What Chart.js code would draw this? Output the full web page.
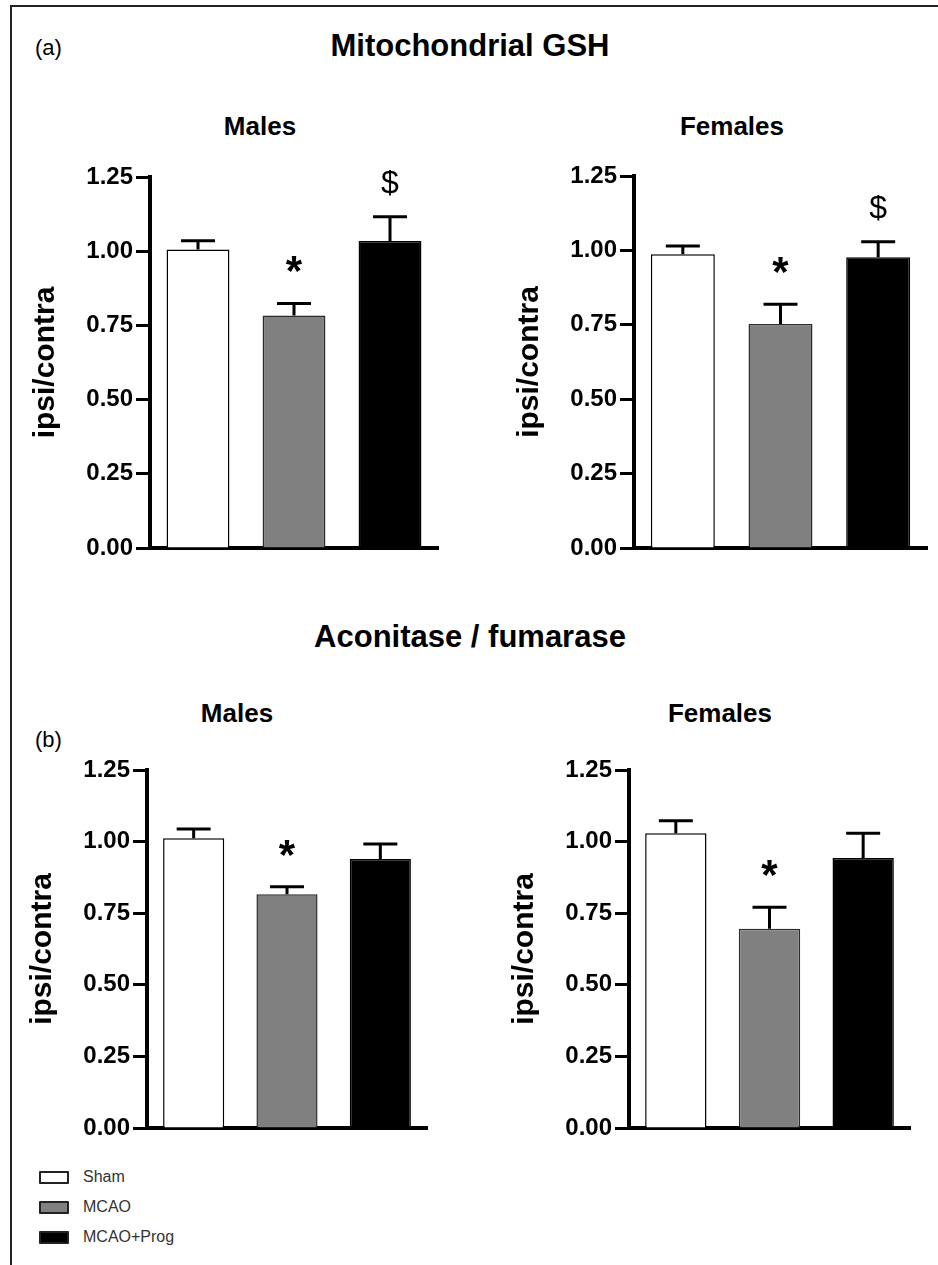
<!DOCTYPE html>
<html>
<head>
<meta charset="utf-8">
<script src="https://cdn.jsdelivr.net/npm/chart.js@4.4.1/dist/chart.umd.min.js"></script>
<style>
  body { margin: 0; background: #fff; }
  #page { position: relative; width: 938px; height: 1265px; overflow: hidden; font-family: "Liberation Sans", Arial, sans-serif; color: #000; }
  #page canvas { position: absolute; }
  .txt { position: absolute; line-height: 1; white-space: nowrap; }
  .bold { font-weight: bold; }
  .frame { position: absolute; left: 10px; top: 5px; width: 960px; height: 1300px; border-left: 2px solid #222; border-top: 2px solid #222; }
  .key { position: absolute; left: 39px; width: 26px; height: 9px; border: 2px solid #222; border-radius: 1px; }
  .keytxt { position: absolute; left: 83px; font-size: 16px; line-height: 1; color: #333; }
</style>
</head>
<body>
<div id="page">
  <div class="frame"></div>

  <div class="txt" style="left:35px; top:37px; font-size:22px;">(a)</div>
  <div class="txt bold" style="left:0; width:940px; text-align:center; top:30px; font-size:31px;">Mitochondrial GSH</div>
  <div class="txt bold" style="left:160px; width:200px; text-align:center; top:113px; font-size:26px;">Males</div>
  <div class="txt bold" style="left:632px; width:200px; text-align:center; top:113px; font-size:26px;">Females</div>

  <div class="txt bold" style="left:0; width:940px; text-align:center; top:621px; font-size:31px;">Aconitase / fumarase</div>
  <div class="txt bold" style="left:137px; width:200px; text-align:center; top:700px; font-size:26px;">Males</div>
  <div class="txt" style="left:35px; top:729px; font-size:22px;">(b)</div>
  <div class="txt bold" style="left:620px; width:200px; text-align:center; top:700px; font-size:26px;">Females</div>

  <canvas id="gshMales"></canvas>
  <canvas id="gshFemales"></canvas>
  <canvas id="acoMales"></canvas>
  <canvas id="acoFemales"></canvas>

  <div class="key" style="top:1171px; background:#fff;"></div>
  <div class="keytxt" style="top:1169px;">Sham</div>
  <div class="key" style="top:1201px; background:#808080;"></div>
  <div class="keytxt" style="top:1199px;">MCAO</div>
  <div class="key" style="top:1231px; background:#000;"></div>
  <div class="keytxt" style="top:1229px;">MCAO+Prog</div>
</div>

<script>
// groupes et couleurs
const groups = ['Sham', 'MCAO', 'MCAO+Prog'];
const barColors = ['#ffffff', '#808080', '#000000'];
const barBorders = ['#000000', '#2b2b2b', '#000000'];
const yTicks = [0, 0.25, 0.5, 0.75, 1.0, 1.25];

// (a) Mitochondrial GSH
const gshMalesValues = [1.006, 0.783, 1.034];
const gshMalesErrors = [0.029, 0.041, 0.082];
const gshFemalesValues = [0.987, 0.753, 0.977];
const gshFemalesErrors = [0.028, 0.066, 0.052];
const gshMarks = ['', '*', '$'];

// (b) Aconitase / fumarase
const acoMalesValues = [1.012, 0.816, 0.939];
const acoMalesErrors = [0.032, 0.026, 0.053];
const acoFemalesValues = [1.029, 0.696, 0.943];
const acoFemalesErrors = [0.044, 0.075, 0.086];
const acoMarks = ['', '*', ''];

Chart.defaults.font.family = '"Liberation Sans", Arial, sans-serif';
Chart.defaults.color = '#000';

// barres d'erreur (SEM, vers le haut) et symboles de significativité
const errorBars = {
    id: 'errorBars',
    afterDatasetsDraw(chart) {
        const ctx = chart.ctx;
        const y = chart.scales.y;
        const ds = chart.data.datasets[0];
        const meta = chart.getDatasetMeta(0);
        ctx.save();
        ctx.strokeStyle = '#000';
        ctx.fillStyle = '#000';
        ctx.lineWidth = 3;
        meta.data.forEach((bar, i) => {
            const top = y.getPixelForValue(ds.data[i] + ds.errors[i]);
            ctx.beginPath();
            ctx.moveTo(bar.x, bar.y);
            ctx.lineTo(bar.x, top);
            ctx.moveTo(bar.x - 17, top);
            ctx.lineTo(bar.x + 17, top);
            ctx.stroke();
            const mark = ds.marks[i];
            ctx.textAlign = 'center';
            ctx.textBaseline = 'alphabetic';
            if (mark === '*') {
                ctx.font = 'bold 42px "Liberation Sans", Arial, sans-serif';
                ctx.fillText(mark, bar.x, top - 18);
            } else if (mark) {
                ctx.font = '32px "Liberation Sans", Arial, sans-serif';
                ctx.fillText(mark, bar.x, top - 24);
            }
        });
        ctx.restore();
    }
};

// box : centre du titre Y (tx) et zone du graphique (cl, ct, cr, cb) en px de page
function makeChart(id, box, values, errors, marks) {
    const canvas = document.getElementById(id);
    const L = box.tx - 22;
    const T = box.ct - 30;
    const W = box.cr + 20 - L;
    const H = box.cb + 20 - T;
    canvas.width = W;
    canvas.height = H;
    canvas.style.left = L + 'px';
    canvas.style.top = T + 'px';
    canvas.style.width = W + 'px';
    canvas.style.height = H + 'px';

    return new Chart(canvas, {
        type: 'bar',
        data: {
            labels: groups,
            datasets: [{
                data: values,
                errors: errors,
                marks: marks,
                backgroundColor: barColors,
                borderColor: barBorders,
                borderWidth: 1.5,
                categoryPercentage: 1,
                barPercentage: 0.655
            }]
        },
        options: {
            responsive: false,
            animation: false,
            devicePixelRatio: 1,
            layout: { padding: { left: 0, top: 30, right: 20, bottom: 0 } },
            plugins: {
                legend: { display: false },
                tooltip: { enabled: false }
            },
            scales: {
                x: {
                    z: 1,
                    grid: { display: false },
                    ticks: { display: false },
                    border: { color: '#000', width: 4 },
                    afterFit(s) { s.height = 20; }
                },
                y: {
                    min: yTicks[0],
                    max: yTicks[yTicks.length - 1],
                    ticks: {
                        stepSize: yTicks[1] - yTicks[0],
                        color: '#000',
                        padding: 3,
                        font: { weight: 'bold', size: 24 },
                        callback: v => v.toFixed(2)
                    },
                    grid: {
                        drawOnChartArea: false,
                        drawTicks: true,
                        tickLength: 14,
                        tickWidth: 3,
                        tickColor: '#000'
                    },
                    border: { color: '#000', width: 4 },
                    title: {
                        display: true,
                        text: 'ipsi/contra',
                        color: '#000',
                        font: { weight: 'bold', size: 30 },
                        padding: { top: 4, bottom: 4 }
                    },
                    afterFit(s) { s.width = box.cl - L; }
                }
            }
        },
        plugins: [errorBars]
    });
}

makeChart('gshMales', { tx: 46, cl: 150, ct: 177, cr: 438, cb: 548 }, gshMalesValues, gshMalesErrors, gshMarks);
makeChart('gshFemales', { tx: 530, cl: 634, ct: 176, cr: 927, cb: 548 }, gshFemalesValues, gshFemalesErrors, gshMarks);
makeChart('acoMales', { tx: 43, cl: 147, ct: 770, cr: 427, cb: 1128 }, acoMalesValues, acoMalesErrors, acoMarks);
makeChart('acoFemales', { tx: 525, cl: 629, ct: 770, cr: 910, cb: 1128 }, acoFemalesValues, acoFemalesErrors, acoMarks);
</script>
</body>
</html>
